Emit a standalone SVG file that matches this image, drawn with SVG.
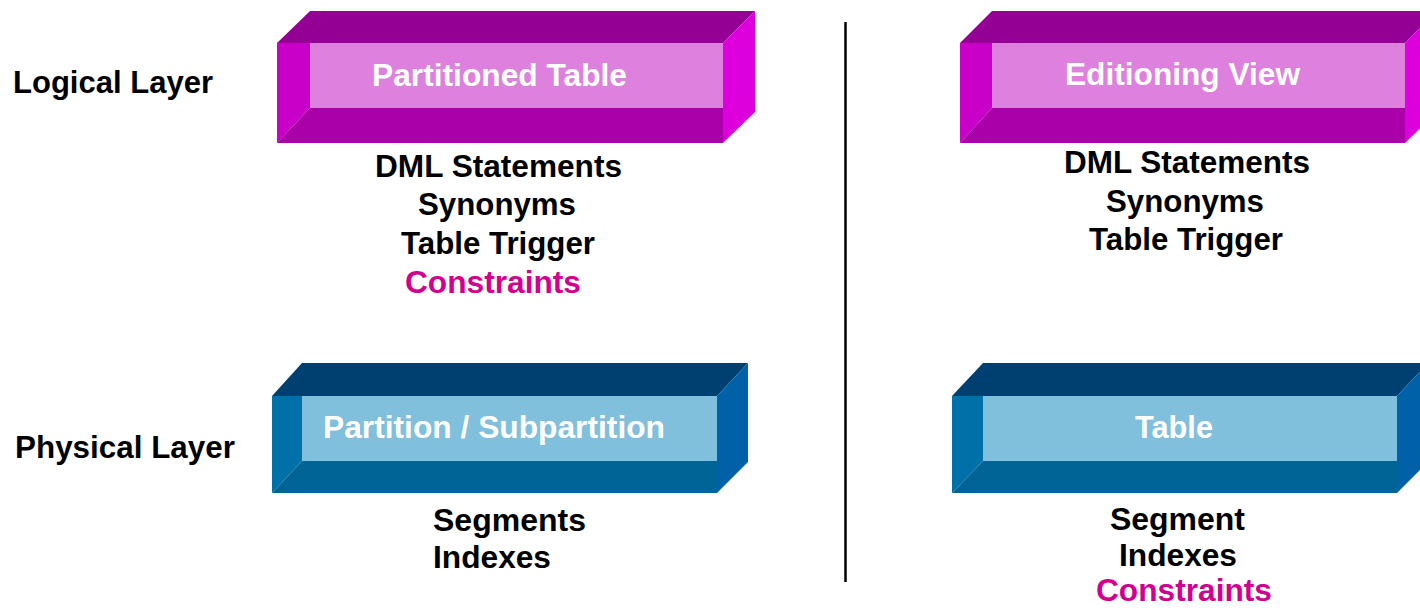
<svg xmlns="http://www.w3.org/2000/svg" width="1420" height="608" viewBox="0 0 1420 608">
<style>
text{font-family:"Liberation Sans",Arial,sans-serif;font-weight:bold}
.lbl{font-size:31px;fill:#000}
.box{font-size:32px;fill:#fff}
.pink{fill:#d1008f}
.mt{fill:#940094}.ml{fill:#c800c8}.mb{fill:#aa00aa}.mr{fill:#dd00dd}.mp{fill:#de80de}
.bt{fill:#004070}.bl{fill:#0070a8}.bb{fill:#006496}.br{fill:#0060a8}.bp{fill:#80c0dc}
</style>
<rect width="1420" height="608" fill="#fff"/>
<g id="divider"><line x1="845.5" y1="22" x2="845.5" y2="582" stroke="#000" stroke-width="2.5"/></g>
<g id="layer-labels">
<text class="lbl" x="13" y="93" textLength="200" lengthAdjust="spacingAndGlyphs">Logical Layer</text>
<text class="lbl" x="15" y="458" textLength="220" lengthAdjust="spacingAndGlyphs">Physical Layer</text>
</g>
<g id="partitioned-table">
<polygon class="mt" points="277,43 310,11 755,11 723,43"/>
<polygon class="ml" points="277,43 310,43 310,108 277,143"/>
<polygon class="mb" points="277,143 310,108 723,108 723,143"/>
<polygon class="mr" points="723,43 755,11 755,112 723,143"/>
<rect class="mp" x="310" y="43" width="413" height="65"/>
<text class="box" x="372" y="86" textLength="255" lengthAdjust="spacingAndGlyphs">Partitioned Table</text>
</g>
<g id="editioning-view">
<polygon class="mt" points="960,43 992,11 1437,11 1405,43"/>
<polygon class="ml" points="960,43 992,43 992,108 960,143"/>
<polygon class="mb" points="960,143 992,108 1405,108 1405,143"/>
<polygon class="mr" points="1405,43 1437,11 1437,112 1405,143"/>
<rect class="mp" x="992" y="43" width="413" height="65"/>
<text class="box" x="1065" y="85" textLength="235" lengthAdjust="spacingAndGlyphs">Editioning View</text>
</g>
<g id="partition-subpartition">
<polygon class="bt" points="272,396 302,363 748,363 717,396"/>
<polygon class="bl" points="272,396 302,396 302,461 272,493"/>
<polygon class="bb" points="272,493 302,461 717,461 717,493"/>
<polygon class="br" points="717,396 748,363 748,462 717,493"/>
<rect class="bp" x="302" y="396" width="415" height="65"/>
<text class="box" x="323" y="438" textLength="342" lengthAdjust="spacingAndGlyphs">Partition / Subpartition</text>
</g>
<g id="table">
<polygon class="bt" points="952,396 983,363 1428,363 1397,396"/>
<polygon class="bl" points="952,396 983,396 983,461 952,493"/>
<polygon class="bb" points="952,493 983,461 1397,461 1397,493"/>
<polygon class="br" points="1397,396 1428,363 1428,462 1397,493"/>
<rect class="bp" x="983" y="396" width="414" height="65"/>
<text class="box" x="1135" y="438" textLength="78" lengthAdjust="spacingAndGlyphs">Table</text>
</g>
<g id="partitioned-table-notes">
<text class="lbl" x="375" y="177" textLength="247" lengthAdjust="spacingAndGlyphs">DML Statements</text>
<text class="lbl" x="418" y="215" textLength="158" lengthAdjust="spacingAndGlyphs">Synonyms</text>
<text class="lbl" x="401" y="254" textLength="194" lengthAdjust="spacingAndGlyphs">Table Trigger</text>
<text class="lbl pink" x="405" y="293" textLength="176" lengthAdjust="spacingAndGlyphs">Constraints</text>
</g>
<g id="editioning-view-notes">
<text class="lbl" x="1064" y="173" textLength="246" lengthAdjust="spacingAndGlyphs">DML Statements</text>
<text class="lbl" x="1106" y="212" textLength="158" lengthAdjust="spacingAndGlyphs">Synonyms</text>
<text class="lbl" x="1089" y="250" textLength="194" lengthAdjust="spacingAndGlyphs">Table Trigger</text>
</g>
<g id="partition-notes">
<text class="lbl" x="433" y="531" textLength="153" lengthAdjust="spacingAndGlyphs">Segments</text>
<text class="lbl" x="433" y="568" textLength="118" lengthAdjust="spacingAndGlyphs">Indexes</text>
</g>
<g id="table-notes">
<text class="lbl" x="1110" y="530" textLength="135" lengthAdjust="spacingAndGlyphs">Segment</text>
<text class="lbl" x="1119" y="566" textLength="118" lengthAdjust="spacingAndGlyphs">Indexes</text>
<text class="lbl pink" x="1096" y="601" textLength="176" lengthAdjust="spacingAndGlyphs">Constraints</text>
</g>
</svg>
